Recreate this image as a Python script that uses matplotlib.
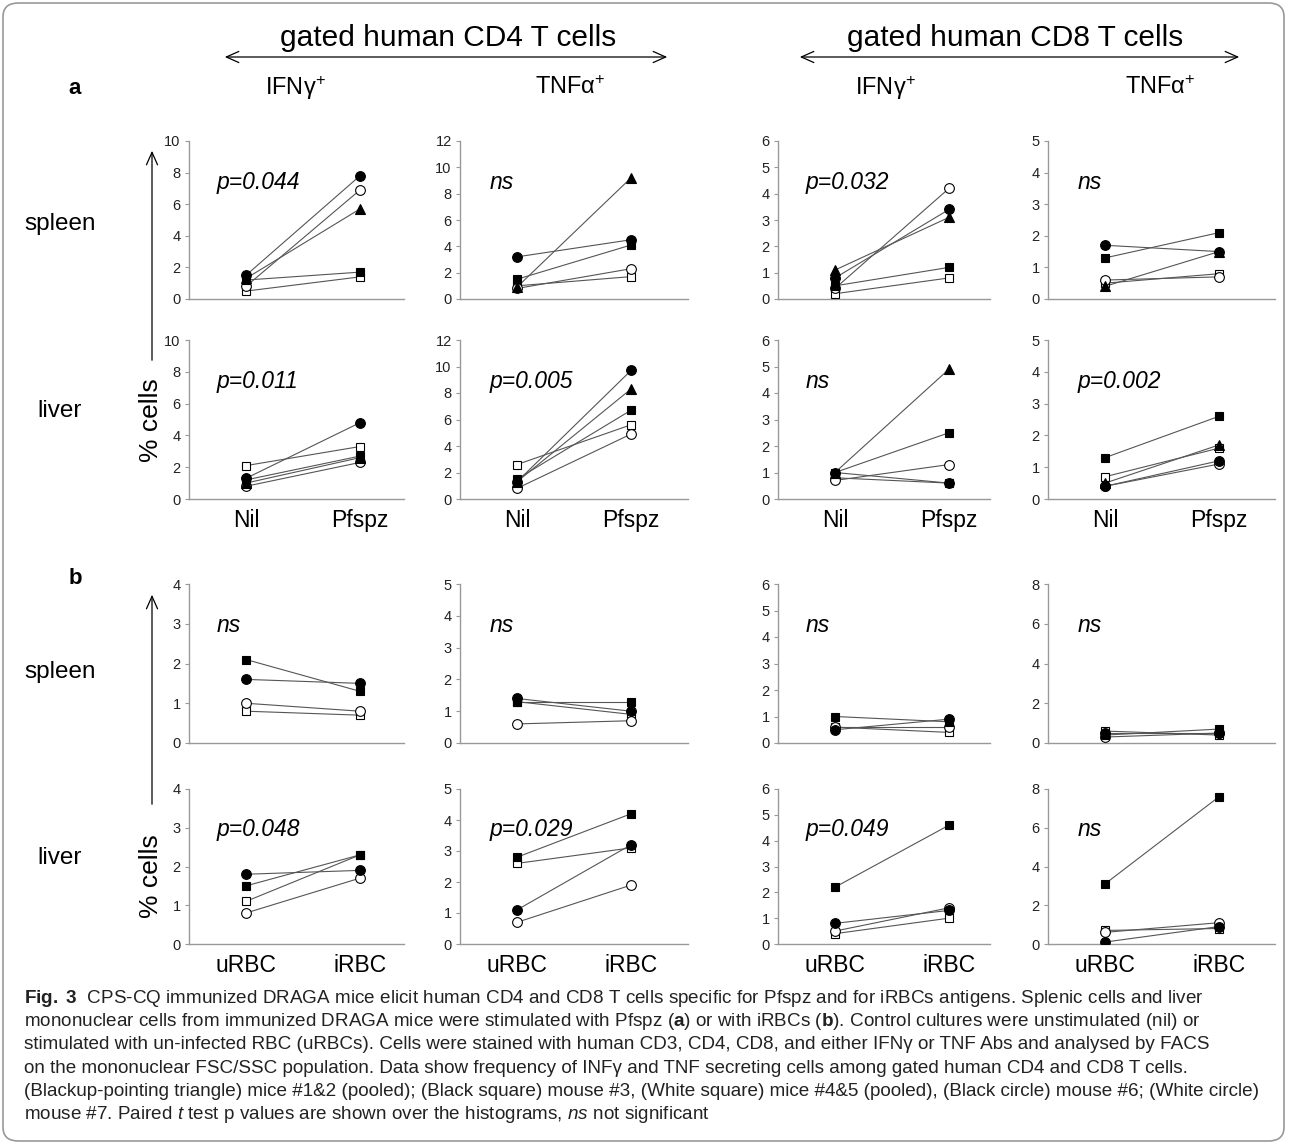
import matplotlib

matplotlib.use("Agg")
import matplotlib.pyplot as plt
from matplotlib.patches import FancyBboxPatch, FancyArrowPatch

plt.rcParams["font.family"] = ["Liberation Sans", "DejaVu Sans"]
plt.rcParams["mathtext.fontset"] = "custom"
plt.rcParams["mathtext.rm"] = "Liberation Sans"
plt.rcParams["mathtext.it"] = "Liberation Sans:italic"
plt.rcParams["mathtext.bf"] = "Liberation Sans:bold"

# groups in the order: triangle, black square, white square, black circle, white circle
GROUPS = ["mice #1&2", "mouse #3", "mice #4&5", "mouse #6", "mouse #7"]

# panel a: Nil vs Pfspz, [before, after] per group
A_SPLEEN_CD4_IFN = [[1.3, 5.7], [1.2, 1.7], [0.5, 1.4], [1.5, 7.8], [0.8, 6.9]]
A_SPLEEN_CD4_TNF = [[0.9, 9.2], [1.5, 4.1], [1.0, 1.7], [3.2, 4.5], [0.8, 2.3]]
A_SPLEEN_CD8_IFN = [[1.1, 3.1], [0.5, 1.2], [0.2, 0.8], [0.8, 3.4], [0.4, 4.2]]
A_SPLEEN_CD8_TNF = [[0.4, 1.5], [1.3, 2.1], [0.5, 0.8], [1.7, 1.5], [0.6, 0.7]]
A_LIVER_CD4_IFN = [[1.0, 2.6], [1.2, 2.7], [2.1, 3.3], [1.3, 4.8], [0.8, 2.3]]
A_LIVER_CD4_TNF = [[1.3, 8.3], [1.5, 6.7], [2.6, 5.6], [1.3, 9.7], [0.8, 4.9]]
A_LIVER_CD8_IFN = [[1.0, 4.9], [1.0, 2.5], [0.8, 0.6], [1.0, 0.6], [0.7, 1.3]]
A_LIVER_CD8_TNF = [[0.5, 1.7], [1.3, 2.6], [0.7, 1.6], [0.4, 1.2], [0.4, 1.1]]

# panel b: uRBC vs iRBC (no pooled #1&2 group)
B_SPLEEN_CD4_IFN = [None, [2.1, 1.3], [0.8, 0.7], [1.6, 1.5], [1.0, 0.8]]
B_SPLEEN_CD4_TNF = [None, [1.3, 1.3], [1.3, 0.9], [1.4, 1.0], [0.6, 0.7]]
B_SPLEEN_CD8_IFN = [None, [1.0, 0.8], [0.6, 0.4], [0.5, 0.9], [0.6, 0.6]]
B_SPLEEN_CD8_TNF = [None, [0.4, 0.7], [0.6, 0.4], [0.5, 0.5], [0.3, 0.5]]
B_LIVER_CD4_IFN = [None, [1.5, 2.3], [1.1, 2.3], [1.8, 1.9], [0.8, 1.7]]
B_LIVER_CD4_TNF = [None, [2.8, 4.2], [2.6, 3.1], [1.1, 3.2], [0.7, 1.9]]
B_LIVER_CD8_IFN = [None, [2.2, 4.6], [0.4, 1.0], [0.8, 1.3], [0.5, 1.4]]
B_LIVER_CD8_TNF = [None, [3.1, 7.6], [0.7, 0.8], [0.1, 0.9], [0.6, 1.1]]

A_LABELS = ["Nil", "Pfspz"]
B_LABELS = ["uRBC", "iRBC"]

A_PVALS = [["p=0.044", "ns", "p=0.032", "ns"], ["p=0.011", "p=0.005", "ns", "p=0.002"]]
B_PVALS = [["ns", "ns", "ns", "ns"], ["p=0.048", "p=0.029", "p=0.049", "ns"]]

A_YMAX = [10, 12, 6, 5]
A_YSTEP = [2, 2, 1, 1]
B_YMAX = [4, 5, 6, 8]
B_YSTEP = [1, 1, 1, 2]

COL_TITLES = ["IFN\u03b3$^{+}$", "TNF\u03b1$^{+}$", "IFN\u03b3$^{+}$", "TNF\u03b1$^{+}$"]

STYLES = [
    dict(marker="^", mfc="black", ms=7),
    dict(marker="s", mfc="black", ms=6),
    dict(marker="s", mfc="white", ms=6),
    dict(marker="o", mfc="black", ms=7),
    dict(marker="o", mfc="white", ms=7),
]
DRAW_ORDER = [2, 4, 1, 0, 3]

W, H = 1290, 1145
fig = plt.figure(figsize=(W / 100, H / 100), dpi=100)

COL_LEFT = [189, 460, 778, 1048]
COL_RIGHT = [404, 688, 990, 1275]
PX_PER_UNIT = 114


def fx(x):
    return x / W


def fy(y):
    return 1 - y / H


def panel(top, bottom, col, data, ymax, ystep, plabel, xlabels):
    left, right = COL_LEFT[col], COL_RIGHT[col]
    ax = fig.add_axes([fx(left), fy(bottom), (right - left) / W, (bottom - top) / H])
    for i in range(len(data)):
        if data[i] is not None:
            ax.plot([0, 1], data[i], color="#555555", lw=0.8, zorder=2)
    for i in DRAW_ORDER:
        if data[i] is None:
            continue
        st = STYLES[i]
        ax.plot([0, 1], data[i], ls="none", marker=st["marker"], ms=st["ms"],
                mfc=st["mfc"], mec="black", mew=0.8, zorder=3)
    ax.set_xlim(-0.5, -0.5 + (right - left) / PX_PER_UNIT)
    ax.set_ylim(0, ymax)
    ax.set_yticks(range(0, ymax + 1, ystep))
    ax.tick_params(axis="y", labelsize=10.5, length=3, width=0.8, color="#999999",
                   pad=3, labelcolor="#222222")
    if xlabels is not None:
        ax.set_xticks([0, 1])
        ax.set_xticklabels(xlabels, fontsize=16.5)
        ax.tick_params(axis="x", length=0, pad=7)
    else:
        ax.set_xticks([])
    for s in ["top", "right"]:
        ax.spines[s].set_visible(False)
    for s in ["left", "bottom"]:
        ax.spines[s].set_color("#999999")
        ax.spines[s].set_linewidth(1.0)
    ax.patch.set_alpha(0)
    ax.text(0.13, 0.74, plabel, transform=ax.transAxes, fontsize=16.5,
            style="italic", va="center", ha="left")
    return ax


a_rows = [
    [A_SPLEEN_CD4_IFN, A_SPLEEN_CD4_TNF, A_SPLEEN_CD8_IFN, A_SPLEEN_CD8_TNF],
    [A_LIVER_CD4_IFN, A_LIVER_CD4_TNF, A_LIVER_CD8_IFN, A_LIVER_CD8_TNF],
]
b_rows = [
    [B_SPLEEN_CD4_IFN, B_SPLEEN_CD4_TNF, B_SPLEEN_CD8_IFN, B_SPLEEN_CD8_TNF],
    [B_LIVER_CD4_IFN, B_LIVER_CD4_TNF, B_LIVER_CD8_IFN, B_LIVER_CD8_TNF],
]
a_tb = [(141, 299), (340, 499)]
b_tb = [(584, 743), (789, 944)]

for r in range(2):
    for c in range(4):
        panel(a_tb[r][0], a_tb[r][1], c, a_rows[r][c], A_YMAX[c], A_YSTEP[c],
              A_PVALS[r][c], A_LABELS if r == 1 else None)
        panel(b_tb[r][0], b_tb[r][1], c, b_rows[r][c], B_YMAX[c], B_YSTEP[c],
              B_PVALS[r][c], B_LABELS if r == 1 else None)

# headers
for cx, x0, x1, label in [(448, 222, 670, "gated human CD4 T cells"),
                          (1015, 797, 1242, "gated human CD8 T cells")]:
    fig.text(fx(cx), fy(38), label, fontsize=21.5, ha="center", va="center")
    fig.add_artist(FancyArrowPatch((fx(x0), fy(57)), (fx(x1), fy(57)),
                                   transform=fig.transFigure, arrowstyle="<->,head_length=9,head_width=4",
                                   lw=0.9, color="black", mutation_scale=1))

for cx, t in zip([295, 570, 885, 1160], COL_TITLES):
    fig.text(fx(cx), fy(88), t, fontsize=17, ha="center", va="center")

fig.text(fx(75), fy(88), "a", fontsize=16, fontweight="bold", ha="center", va="center")
fig.text(fx(75), fy(578), "b", fontsize=16, fontweight="bold", ha="center", va="center")

for y, t in [(224, "spleen"), (411, "liver"), (672, "spleen"), (858, "liver")]:
    fig.text(fx(60), fy(y), t, fontsize=17.5, ha="center", va="center")

# % cells vertical arrows
for y_top, y_bot, y_txt in [(148, 363, 420), (592, 807, 876)]:
    fig.add_artist(FancyArrowPatch((fx(152), fy(y_bot)), (fx(152), fy(y_top)),
                                   transform=fig.transFigure, arrowstyle="->,head_length=9,head_width=4",
                                   lw=0.9, color="black", mutation_scale=1))
    fig.text(fx(151), fy(y_txt), "% cells", fontsize=19, rotation=90,
             ha="center", va="center")

# caption
caption = [
    "$\\mathbf{Fig.\\ 3}$  CPS-CQ immunized DRAGA mice elicit human CD4 and CD8 T cells specific for Pfspz and for iRBCs antigens. Splenic cells and liver",
    "mononuclear cells from immunized DRAGA mice were stimulated with Pfspz ($\\mathbf{a}$) or with iRBCs ($\\mathbf{b}$). Control cultures were unstimulated (nil) or",
    "stimulated with un-infected RBC (uRBCs). Cells were stained with human CD3, CD4, CD8, and either IFN\u03b3 or TNF Abs and analysed by FACS",
    "on the mononuclear FSC/SSC population. Data show frequency of INF\u03b3 and TNF secreting cells among gated human CD4 and CD8 T cells.",
    "(Blackup-pointing triangle) mice #1&2 (pooled); (Black square) mouse #3, (White square) mice #4&5 (pooled), (Black circle) mouse #6; (White circle)",
    "mouse #7. Paired $\\mathit{t}$ test p values are shown over the histograms, $\\mathit{ns}$ not significant",
]
for i, line in enumerate(caption):
    fig.text(fx(24), fy(1003 + i * 23.2), line, fontsize=13.6, ha="left", va="baseline",
             color="#222222")

# rounded frame
fig.add_artist(FancyBboxPatch((fx(3), fy(1141)), fx(1284) - fx(3), fy(3) - fy(1141),
                              boxstyle="round,pad=0,rounding_size=0.012",
                              transform=fig.transFigure, fill=False,
                              ec="#999999", lw=1.2))

fig.savefig("out.png", dpi=100)
